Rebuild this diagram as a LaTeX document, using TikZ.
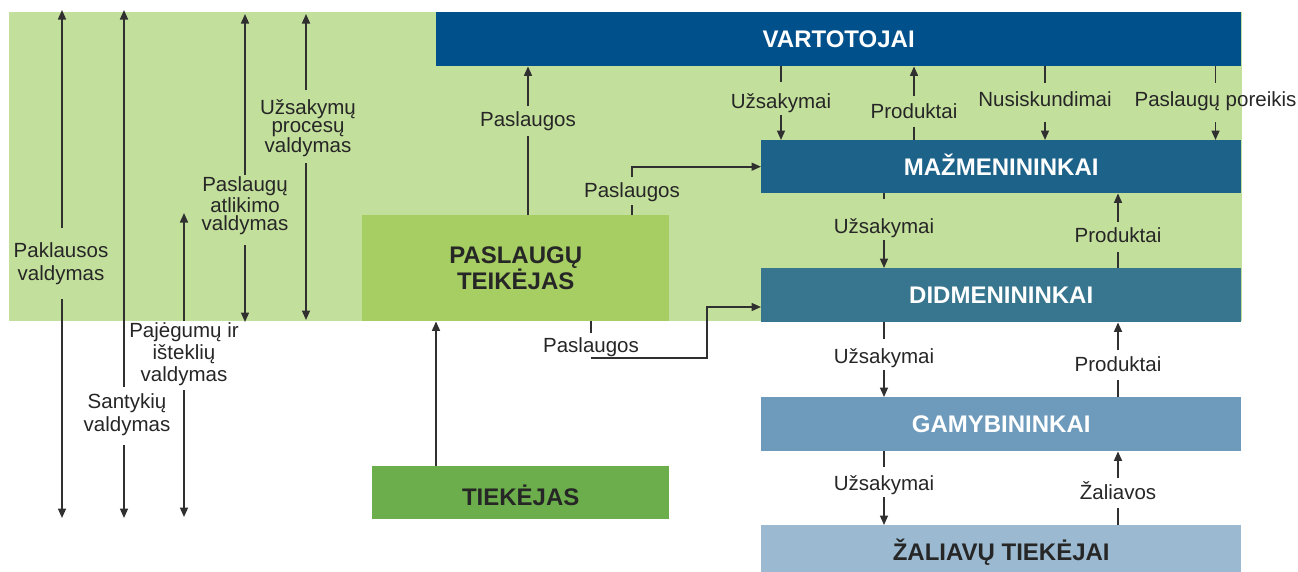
\documentclass[tikz,border=0pt]{standalone}
\usepackage{fontspec}
\setmainfont{Liberation Sans}
\usetikzlibrary{arrows.meta}
\definecolor{cBg}{HTML}{C3DF9C}
\definecolor{cVar}{HTML}{00508B}
\definecolor{cMaz}{HTML}{1C6289}
\definecolor{cDid}{HTML}{37768E}
\definecolor{cGam}{HTML}{6E9BBC}
\definecolor{cZal}{HTML}{9BBAD1}
\definecolor{cPt}{HTML}{A6CE62}
\definecolor{cTie}{HTML}{6BAE4B}
\definecolor{txt}{HTML}{262626}
\definecolor{lnc}{HTML}{303030}
\begin{document}
\begin{tikzpicture}[x=1pt,y=-1pt,
  lab/.style={font=\fontsize{20.5}{23}\selectfont, text=txt, inner sep=0pt, anchor=base},
  mlab/.style={font=\fontsize{20.5}{23}\selectfont, text=txt, inner sep=0pt, align=center},
  boxbase/.style={anchor=north west, inner sep=0pt, font=\fontsize{24}{26}\bfseries\selectfont},
  box/.style={boxbase, text height=17pt, text depth=0pt},
  ln/.style={draw=lnc, line width=1.6pt},
  arr/.style={draw=lnc, line width=1.6pt, -{Triangle[length=9.5pt,width=8pt]}}
]
\useasboundingbox (0,0) rectangle (1298,571);
\fill[cBg] (9,12) rectangle (1242,321);

% boxes
\node[box, fill=cVar, text=white, minimum width=805pt, minimum height=54pt] (vart) at (436,12) {VARTOTOJAI};
\node[box, fill=cMaz, text=white, minimum width=480pt, minimum height=53pt] (maz) at (761,140) {MAŽMENININKAI};
\node[box, fill=cDid, text=white, minimum width=480pt, minimum height=54pt] (did) at (761,268) {DIDMENININKAI};
\node[box, fill=cGam, text=white, minimum width=480pt, minimum height=54pt] (gam) at (761,397) {GAMYBININKAI};
\node[box, fill=cZal, text=txt, minimum width=480pt, minimum height=54pt] (zal) at (761,525) {ŽALIAVŲ TIEKĖJAI};
\node[boxbase, fill=cPt, text=txt, minimum width=307pt, minimum height=106pt, align=center] (pt) at (362,215) {PASLAUGŲ\\TEIKĖJAS};
\node[box, fill=cTie, text=txt, minimum width=297pt, minimum height=53pt, text height=26pt] (tie) at (372,466) {TIEKĖJAS};

% VARTOTOJAI - MAZMENININKAI
\node[lab] (a1) at (781,108) {Užsakymai};
\draw[ln] (vart.south -| a1) -- ([yshift=26pt]a1.base);
\draw[arr] ([yshift=-7pt]a1.base) -- (a1.base |- maz.north);
\node[lab] (a2) at (914,118) {Produktai};
\draw[arr] ([yshift=22pt]a2.base) -- (a2.base |- vart.south);
\draw[ln] ([yshift=-9pt]a2.base) -- (a2.base |- maz.north);
\node[lab] (a3) at (1045,106) {Nusiskundimai};
\draw[ln] (vart.south -| a3) -- ([yshift=23pt]a3.base);
\draw[arr] ([yshift=-16pt]a3.base) -- (a3.base |- maz.north);
\node[lab] (a4) at (1215.5,106) {Paslaugų poreikis};
\draw[ln] (vart.south -| a4) -- ([yshift=23pt]a4.base);
\draw[arr] ([yshift=-16pt]a4.base) -- (a4.base |- maz.north);

% MAZ - DID
\node[lab] (b1) at (884,233) {Užsakymai};
\draw[ln] (maz.south -| b1) -- ([yshift=34pt]b1.base);
\draw[arr] ([yshift=-7pt]b1.base) -- (b1.base |- did.north);
\node[lab] (b2) at (1118,242) {Produktai};
\draw[arr] ([yshift=20pt]b2.base) -- (b2.base |- maz.south);
\draw[ln] ([yshift=-10pt]b2.base) -- (b2.base |- did.north);

% DID - GAM
\node[lab] (c1) at (884,363) {Užsakymai};
\draw[ln] (did.south -| c1) -- ([yshift=24pt]c1.base);
\draw[arr] ([yshift=-7pt]c1.base) -- (c1.base |- gam.north);
\node[lab] (c2) at (1118,371) {Produktai};
\draw[arr] ([yshift=21pt]c2.base) -- (c2.base |- did.south);
\draw[ln] ([yshift=-9pt]c2.base) -- (c2.base |- gam.north);

% GAM - ZAL
\node[lab] (d1) at (884,490) {Užsakymai};
\draw[ln] (gam.south -| d1) -- ([yshift=23pt]d1.base);
\draw[arr] ([yshift=-7pt]d1.base) -- (d1.base |- zal.north);
\node[lab] (d2) at (1118,499) {Žaliavos};
\draw[arr] ([yshift=21pt]d2.base) -- (d2.base |- gam.south);
\draw[ln] ([yshift=-9pt]d2.base) -- (d2.base |- zal.north);

% Paslaugos
\node[lab] (p1) at (528,126) {Paslaugos};
\draw[arr] ([yshift=20pt]p1.base) -- (p1.base |- vart.south);
\draw[ln] ([yshift=-10pt]p1.base) -- (p1.base |- pt.north);
\node[lab] (p2) at (632,197) {Paslaugos};
\draw[ln] (pt.north -| p2) -- ([yshift=-8pt]p2.base);
\draw[arr] ([yshift=20pt]p2.base) |- (maz.west);
\node[lab] (p3) at (591,352) {Paslaugos};
\draw[ln] (pt.south -| p3) -- ([yshift=19pt]p3.base);
\coordinate (k3) at (707,307);
\draw[arr] ([yshift=-6pt]p3.base) -| (k3) -- (k3 -| did.west);

% TIEKEJAS -> PASLAUGU TEIKEJAS
\draw[arr] ([xshift=64pt]tie.north west) -- ([xshift=74pt]pt.south west);

% left management arrows
\node[mlab] (m1) at (61,264) {Paklausos\\valdymas};
\coordinate (m1t) at (62,10);
\coordinate (m1b) at (62,518);
\draw[arr] ([yshift=15pt]m1.north -| m1t) -- (m1t);
\draw[arr] ([yshift=-14pt]m1.south -| m1b) -- (m1b);

\node[mlab] (m2) at (127,415) {Santykių\\valdymas};
\coordinate (m2t) at (124,10);
\coordinate (m2b) at (124,518);
\draw[arr] ([yshift=7pt]m2.north -| m2t) -- (m2t);
\draw[arr] ([yshift=-9pt]m2.south -| m2b) -- (m2b);

\node[mlab, font=\fontsize{20.5}{22}\selectfont] (m3) at (184,354) {Pajėgumų ir\\išteklių\\valdymas};
\coordinate (m3t) at (184,213);
\coordinate (m3b) at (184,517);
\draw[arr] ([yshift=1pt]m3.north -| m3t) -- (m3t);
\draw[arr] ([yshift=-4pt]m3.south -| m3b) -- (m3b);

\node[mlab, font=\fontsize{20.5}{18.5}\selectfont] (m4) at (245,206) {Paslaugų\\atlikimo\\valdymas};
\coordinate (m4t) at (245,14);
\coordinate (m4b) at (245,322);
\draw[arr] ([yshift=2pt]m4.north -| m4t) -- (m4t);
\draw[arr] ([yshift=-10pt]m4.south -| m4b) -- (m4b);

\node[mlab, font=\fontsize{20.5}{18}\selectfont] (m5) at (308,128) {Užsakymų\\procesų\\valdymas};
\coordinate (m5t) at (306,14);
\coordinate (m5b) at (306,320);
\draw[arr] ([yshift=9pt]m5.north -| m5t) -- (m5t);
\draw[arr] ([yshift=-6pt]m5.south -| m5b) -- (m5b);
\end{tikzpicture}
\end{document}
